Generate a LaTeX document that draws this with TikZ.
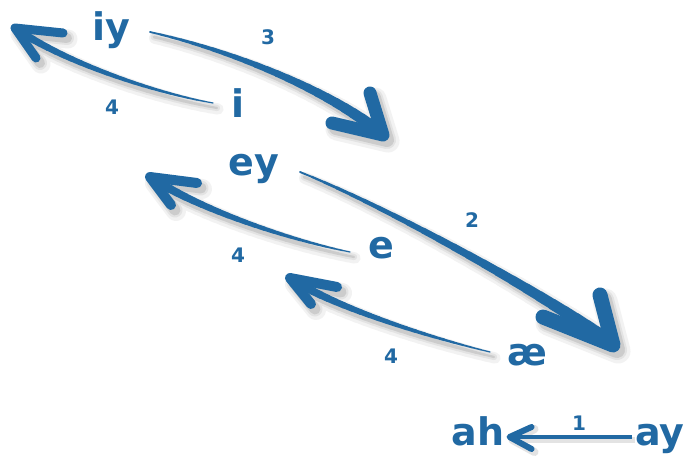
\documentclass[tikz,border=0pt]{standalone}
\usepackage{fontspec}
\setmainfont{DejaVu Sans}
\usetikzlibrary{calc}
\definecolor{vblue}{RGB}{33,105,163}
\definecolor{sha}{gray}{0.95}
\definecolor{shb}{gray}{0.89}
\definecolor{shc}{gray}{0.80}
\tikzset{
  big/.style={font=\fontsize{38}{42}\selectfont\bfseries, text=vblue, inner sep=0pt, anchor=base},
  num/.style={font=\fontsize{20}{23}\selectfont\bfseries, text=vblue, inner sep=0pt, anchor=base},
}
% sample points along a cubic curve
\newcommand\brushpts[4]{%
  \path (#1) .. controls (#2) and (#3) .. (#4)
    foreach \k [evaluate=\k as \bt using \k/24] in {0,...,24} { coordinate[pos=\bt] (bp\k) };
}
% #1 w0 #2 w1 #3 barb width #4 barb1 #5 barb2 #6 extra width #7 colour #8 dx #9 dy
\newcommand\brushdraw[9]{%
  \foreach \k [remember=\k as \j (initially 0), evaluate=\k as \w using #1+(#2-#1)*(\k/24)^1.1+#6] in {1,...,24}
    {\draw[#7, line width=\w pt, line cap=round] ([shift={(#8,#9)}]bp\j) -- ([shift={(#8,#9)}]bp\k);}
  \draw[#7, line width=#3pt+#6pt, line cap=round, line join=round]
    ([shift={(#8,#9)}]#4) -- ([shift={(#8,#9)}]bp24) -- ([shift={(#8,#9)}]#5);
}
% #1 tail #2 c1 #3 c2 #4 tip #5 w0 #6 w1 #7 barb width #8 barb1 #9 barb2
\newcommand\brusharrow[9]{%
  \brushpts{#1}{#2}{#3}{#4}
  \brushdraw{#5}{#6}{#7}{#8}{#9}{10}{sha}{5}{6}
  \brushdraw{#5}{#6}{#7}{#8}{#9}{5}{shb}{4}{5}
  \brushdraw{#5}{#6}{#7}{#8}{#9}{1}{shc}{4}{5}
  \brushdraw{#5}{#6}{#7}{#8}{#9}{0}{vblue}{0}{0}
}
\begin{document}
\begin{tikzpicture}[x=1pt,y=-1pt]
\useasboundingbox (0,0) rectangle (687,462);
\fill[white] (0,0) rectangle (687,462);

% arrow 4 (i -> top left)
\coordinate (t1) at (213,103); \coordinate (k1) at (150,92); \coordinate (l1) at (60,60);
\coordinate (h1) at (15,28); \coordinate (u1) at (63,33); \coordinate (v1) at (36,58);
\brusharrow{t1}{k1}{l1}{h1}{1}{8}{9}{u1}{v1}

% arrow 3 (iy -> down right)
\coordinate (t2) at (150,32); \coordinate (k2) at (230,50); \coordinate (l2) at (330,90);
\coordinate (h2) at (383,135); \coordinate (u2) at (370,93); \coordinate (v2) at (332,123);
\brusharrow{t2}{k2}{l2}{h2}{1.5}{12}{13}{u2}{v2}

% arrow 4 (e -> up left)
\coordinate (t3) at (350,252); \coordinate (k3) at (290,240); \coordinate (l3) at (200,210);
\coordinate (h3) at (150,177); \coordinate (u3) at (197,183); \coordinate (v3) at (171,205);
\brusharrow{t3}{k3}{l3}{h3}{1}{9}{10}{u3}{v3}

% arrow 2 (ey -> down right)
\coordinate (t4) at (300,172); \coordinate (k4) at (390,208); \coordinate (l4) at (555,300);
\coordinate (h4) at (613,345); \coordinate (u4) at (600,295); \coordinate (v4) at (543,317);
\brusharrow{t4}{k4}{l4}{h4}{1.5}{14}{15}{u4}{v4}

% arrow 4 (ae -> up left)
\coordinate (t5) at (490,352); \coordinate (k5) at (420,335); \coordinate (l5) at (330,305);
\coordinate (h5) at (290,278); \coordinate (u5) at (337,287); \coordinate (v5) at (311,304);
\brusharrow{t5}{k5}{l5}{h5}{1}{9}{10}{u5}{v5}

% texts
\node[big] (iy) at (111,41) {iy};
\node[big] (i) at (238,118) {i};
\node[big] (ey) at (254,176) {ey};
\node[big] (e) at (381,258) {e};
\node[big] (ae) at (527,365) {æ};
\node[big] (ah) at (478,445) {ah};
\node[big] (ay) at (660,445) {ay};
\node[num] (n3) at (268,45) {3};
\node[num] (n4a) at (112,115) {4};
\node[num] (n2) at (472,227) {2};
\node[num] (n4b) at (238,262) {4};
\node[num] (n4c) at (391,363) {4};
\node[num] (n1) at (579,430) {1};

% arrow 1 (ay -> ah)
\coordinate (h6) at ($(ah.base east)+(5,-8)$);
\coordinate (t6) at ($(ay.base west)+(-3,-8)$);
\draw[shb, line width=6pt] ([shift={(3,3)}]t6) -- ([shift={(3,3)}]h6);
\draw[shb, line width=8pt, line cap=round, line join=round]
  ([shift={(25,-8)}]h6) -- ([shift={(3,3)}]h6) -- ([shift={(25,15)}]h6);
\draw[vblue, line width=4pt] (t6) -- (h6);
\draw[vblue, line width=6pt, line cap=round, line join=round]
  ($(h6)+(22,-10)$) -- (h6) -- ($(h6)+(22,12)$);
\end{tikzpicture}
\end{document}
